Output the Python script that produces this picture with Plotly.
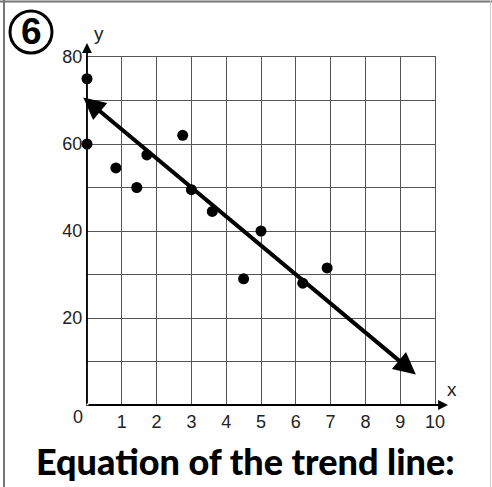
import plotly.graph_objects as go

# Scatter data
x_vals = [0, 0, 0.83, 1.43, 1.72, 2.75, 3.0, 3.6, 4.5, 5.0, 6.2, 6.9]
y_vals = [75, 60, 54.5, 50, 57.5, 62, 49.5, 44.5, 29, 40, 28, 31.5]

# Trend line end points (arrow at both ends)
trend_x = [-0.15, 9.45]
trend_y = [71, 7]

# Axis ticks
x_ticks = list(range(0, 11))
x_labels = [""] + [str(v) for v in range(1, 11)]
y_ticks = list(range(0, 81, 10))
y_labels = ["", "", "20", "", "40", "", "60", "", "80"]

W, H = 492, 487
L, R, T, B = 87, 57, 57, 82
PW, PH = W - L - R, H - T - B


def px(x):
    return (x - L) / PW


def py(y):
    return (H - B - y) / PH


grid_color = "#555555"
tick_font = dict(family="Liberation Sans, Arial, sans-serif", size=18, color="#222222")


def label(x, y, text, font):
    return dict(x=px(x), y=py(y), xref="paper", yref="paper", text=text,
                xanchor="center", yanchor="middle", showarrow=False, font=font)


fig = go.Figure()

fig.add_trace(go.Scatter(
    x=x_vals, y=y_vals, mode="markers",
    marker=dict(color="black", size=11),
    cliponaxis=False, showlegend=False, hoverinfo="skip",
))

annotations = []

# trend line with arrowheads on both ends
annotations.append(dict(
    x=trend_x[1], y=trend_y[1], xref="x", yref="y",
    ax=trend_x[0], ay=trend_y[0], axref="x", ayref="y",
    text="", showarrow=True, arrowside="end+start",
    arrowhead=2, arrowsize=1.1, arrowwidth=4, arrowcolor="black",
    standoff=0, startstandoff=0,
))

# axes with arrows
annotations.append(dict(
    x=0, y=py(43), xref="paper", yref="paper",
    ax=0, ay=362, axref="pixel", ayref="pixel",
    text="", showarrow=True, arrowhead=2, arrowsize=1.1, arrowwidth=1.8,
    arrowcolor="black", standoff=0,
))
annotations.append(dict(
    x=px(448), y=0, xref="paper", yref="paper",
    ax=-361, ay=0, axref="pixel", ayref="pixel",
    text="", showarrow=True, arrowhead=2, arrowsize=1.1, arrowwidth=1.8,
    arrowcolor="black", standoff=0,
))

# axis names and origin label
annotations.append(label(99, 33, "y", dict(tick_font, size=19)))
annotations.append(label(452, 389, "x", dict(tick_font, size=19)))
annotations.append(label(78, 417, "0", tick_font))

# problem number
annotations.append(label(31, 32, "<b>6</b>",
                         dict(family="Liberation Sans, Arial, sans-serif", size=37, color="black")))

# caption
annotations.append(label(245, 461, "Equation of the trend line:",
                         dict(family="Lato, sans-serif", size=36, color="black", weight=900)))

shapes = [
    # circle around the problem number
    dict(type="circle", xref="paper", yref="paper",
         x0=px(10), x1=px(52), y0=py(11), y1=py(53),
         line=dict(color="black", width=3)),
    # page frame
    dict(type="line", xref="paper", yref="paper", x0=px(4), x1=px(4), y0=py(0), y1=py(487),
         line=dict(color="#777777", width=2)),
    dict(type="line", xref="paper", yref="paper", x0=px(0), x1=px(492), y0=py(1.5), y1=py(1.5),
         line=dict(color="#777777", width=2)),
    dict(type="line", xref="paper", yref="paper", x0=px(490.5), x1=px(490.5), y0=py(0), y1=py(487),
         line=dict(color="#cccccc", width=1)),
]

fig.update_layout(
    width=W, height=H,
    margin=dict(l=L, r=R, t=T, b=B),
    paper_bgcolor="white", plot_bgcolor="white",
    annotations=annotations, shapes=shapes,
    showlegend=False,
)
fig.update_xaxes(
    range=[0, 10], tickvals=x_ticks, ticktext=x_labels,
    showgrid=True, gridcolor=grid_color, gridwidth=1,
    zeroline=False, showline=True, linecolor=grid_color, linewidth=1, mirror=True,
    ticks="", tickfont=tick_font, fixedrange=True,
)
fig.update_yaxes(
    range=[0, 80], tickvals=y_ticks, ticktext=y_labels,
    showgrid=True, gridcolor=grid_color, gridwidth=1,
    zeroline=False, showline=True, linecolor=grid_color, linewidth=1, mirror=True,
    ticks="", tickfont=tick_font, fixedrange=True,
)

fig.write_html("out.html", config={"displayModeBar": False})
